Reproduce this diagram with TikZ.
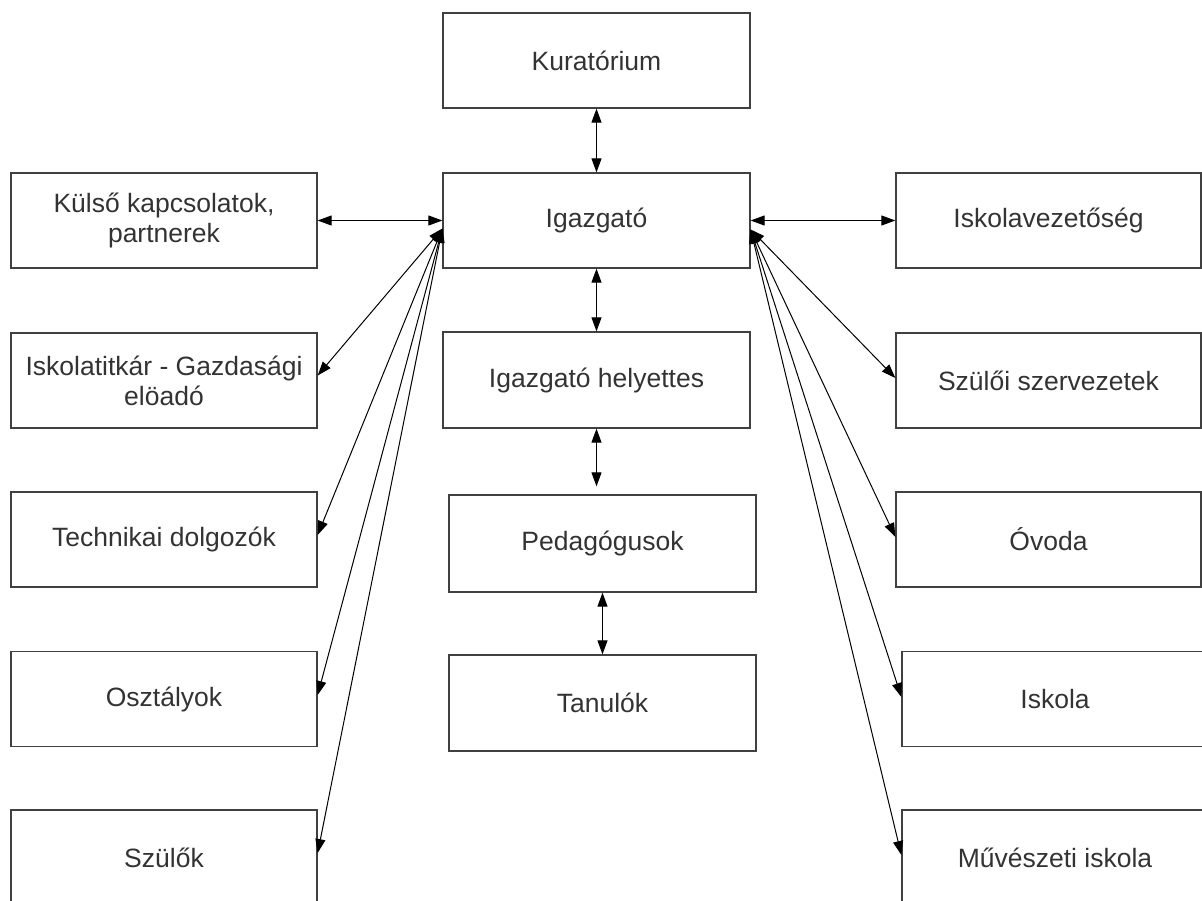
\documentclass[tikz,border=0pt]{standalone}
\usepackage{fontspec}
\setmainfont{Liberation Sans}
\usetikzlibrary{arrows.meta}
\definecolor{boxline}{HTML}{404040}
\definecolor{txt}{HTML}{333333}
\begin{document}
\begin{tikzpicture}[x=1pt,y=-1pt,
  box/.style={draw=boxline,line width=1.3pt,minimum width=306pt,minimum height=95pt,
    inner sep=0pt,align=center,text=txt,font=\fontsize{26.5}{30}\selectfont},
  bi/.style={line width=1pt,{Triangle[length=14pt,width=10pt]}-{Triangle[length=14pt,width=10pt]}}]
\useasboundingbox[fill=white] (0,0) rectangle (1202,900);
% centre column
\node[box,minimum width=307pt] (kur) at (596.5,60.5) {Kuratórium};
\node[box,minimum width=307pt] (iga) at (596.5,220.5) {Igazgató};
\node[box,minimum width=307pt,minimum height=96pt] (hely) at (596.5,380) {Igazgató helyettes};
\node[box,minimum width=307pt,minimum height=97pt] (ped) at (602.5,543.5) {Pedagógusok};
\node[box,minimum width=307pt,minimum height=96pt] (tan) at (602.5,703) {Tanulók};
% left column
\node[box] (kul) at (164,220.5) {Külső kapcsolatok,\\partnerek};
\node[box] (tit) at (164,380.5) {Iskolatitkár - Gazdasági\\elöadó};
\node[box] (tech) at (164,539.5) {Technikai dolgozók};
\node[box] (osz) at (164,699) {Osztályok};
\node[box] (szu) at (164,857.5) {Szülők};
% right column
\node[box,minimum width=305pt] (vez) at (1048.5,220.5) {Iskolavezetőség};
\node[box,minimum width=305pt] (szsz) at (1048.5,380.5) {Szülői szervezetek};
\node[box,minimum width=305pt] (ovo) at (1048.5,539.5) {Óvoda};
\node[box] (isk) at (1055,699) {Iskola};
\node[box] (muv) at (1055,857.5) {Művészeti iskola};
% connectors, centre
\draw[bi] (kur.south) -- (iga.north);
\draw[bi] (iga.south) -- (hely.north);
\draw[bi,shorten >=8pt] (hely.south) -- (hely.south |- ped.north);
\draw[bi] (ped.south) -- (tan.north);
% left fan
\coordinate (L) at ([yshift=-8pt]iga.west);
\draw[bi] (kul.east) -- (iga.west);
\draw[bi] (L) -- ([yshift=5pt]tit.east);
\draw[bi] (L) -- ([yshift=4.5pt]tech.east);
\draw[bi] (L) -- ([yshift=4pt]osz.east);
\draw[bi] (L) -- ([yshift=4.5pt]szu.east);
% right fan
\coordinate (R) at ([yshift=-9pt]iga.east);
\draw[bi] (iga.east) -- (vez.west);
\draw[bi] (R) -- ([yshift=2.5pt]szsz.west);
\draw[bi] (R) -- ([yshift=2.5pt]ovo.west);
\draw[bi] (R) -- ([yshift=2pt]isk.west);
\draw[bi] (R) -- ([yshift=2.5pt]muv.west);
\end{tikzpicture}
\end{document}
